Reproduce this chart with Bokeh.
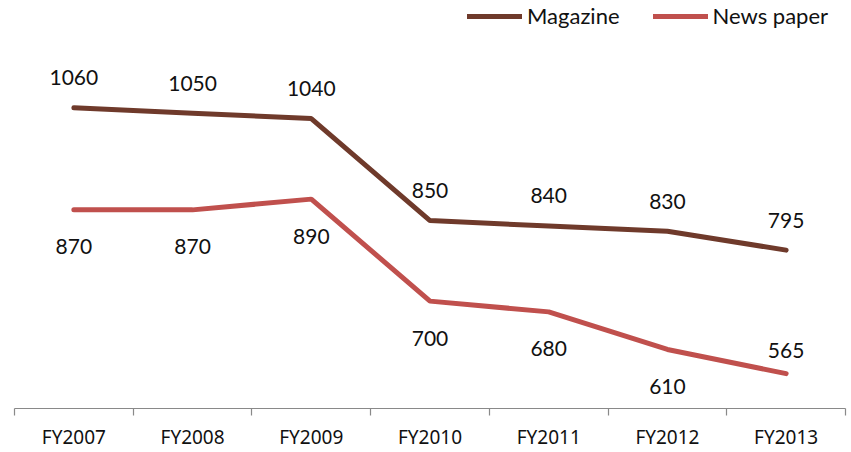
from bokeh.plotting import figure
from bokeh.models import (Range1d, FixedTicker, LinearAxis, Legend, LegendItem,
                          LabelSet, ColumnDataSource)
from bokeh.core.properties import value
from bokeh.embed import file_html
from bokeh.resources import INLINE

# Circulation figures by fiscal year
categories = ["FY2007", "FY2008", "FY2009", "FY2010", "FY2011", "FY2012", "FY2013"]
magazine = [1060, 1050, 1040, 850, 840, 830, 795]
newspaper = [870, 870, 890, 700, 680, 610, 565]
newspaper_label_side = ["below", "below", "below", "below", "below", "below", "above"]

MAG_COLOR = "#6F3A2B"
NEWS_COLOR = "#C0504D"
AXIS_COLOR = "#898989"

W, H = 851, 452
TOP, BOTTOM, LEFT, RIGHT = 0, 44, 14, 6
frame_h = H - TOP - BOTTOM

n = len(categories)
centers = [i + 0.5 for i in range(n)]
boundaries = list(range(n + 1))

p = figure(width=W, height=H, output_backend="svg", toolbar_location=None,
           x_range=Range1d(0, n), y_range=Range1d(500, 1260),
           x_axis_location=None, y_axis_location=None,
           min_border_left=LEFT, min_border_right=RIGHT,
           min_border_top=TOP, min_border_bottom=BOTTOM)
p.grid.visible = False
p.outline_line_color = None
p.background_fill_color = "white"
p.border_fill_color = "white"

# Category names sit at the centres; the minor ticks mark the category boundaries
x_axis = LinearAxis(ticker=FixedTicker(ticks=centers, minor_ticks=boundaries),
                    major_label_overrides={c: lab for c, lab in zip(centers, categories)},
                    major_tick_out=0, major_tick_in=0, major_tick_line_color=None,
                    minor_tick_out=7, minor_tick_in=0,
                    minor_tick_line_color=AXIS_COLOR, minor_tick_line_width=1.2,
                    axis_line_color=AXIS_COLOR, axis_line_width=1.2,
                    major_label_standoff=8,
                    major_label_text_font="Noto Sans",
                    major_label_text_font_size="19px",
                    major_label_text_color="#111111")
p.add_layout(x_axis, "below")

src = ColumnDataSource(dict(
    x=centers,
    mag=magazine,
    news=newspaper,
    mag_txt=[str(v) for v in magazine],
    news_txt=[str(v) for v in newspaper],
    mag_off=[30] * n,
    news_off=[23 if s == "above" else -37 for s in newspaper_label_side],
))

r_mag = p.line("x", "mag", source=src, line_color=MAG_COLOR, line_width=5, line_cap="round")
r_news = p.line("x", "news", source=src, line_color=NEWS_COLOR, line_width=5, line_cap="round")

label_style = dict(text_font=value("Lato"), text_font_size=value("21px"),
                   text_color="#111111", text_align="center", text_baseline="middle")
p.add_layout(LabelSet(x="x", y="mag", text="mag_txt", y_offset="mag_off", source=src, **label_style))
p.add_layout(LabelSet(x="x", y="news", text="news_txt", y_offset="news_off", source=src, **label_style))

LEG_H = 24
legend = Legend(items=[LegendItem(label="Magazine", renderers=[r_mag]),
                       LegendItem(label="News paper", renderers=[r_news])],
                orientation="horizontal", location=(453, frame_h - 5 - LEG_H),
                border_line_color=None, background_fill_alpha=0,
                glyph_width=55, glyph_height=LEG_H, label_height=LEG_H,
                label_text_font="Lato", label_text_font_size="22px",
                label_text_color="#111111", label_standoff=5,
                spacing=33, padding=0, margin=0)
p.add_layout(legend)

open("out.html", "w").write(file_html(p, INLINE))
